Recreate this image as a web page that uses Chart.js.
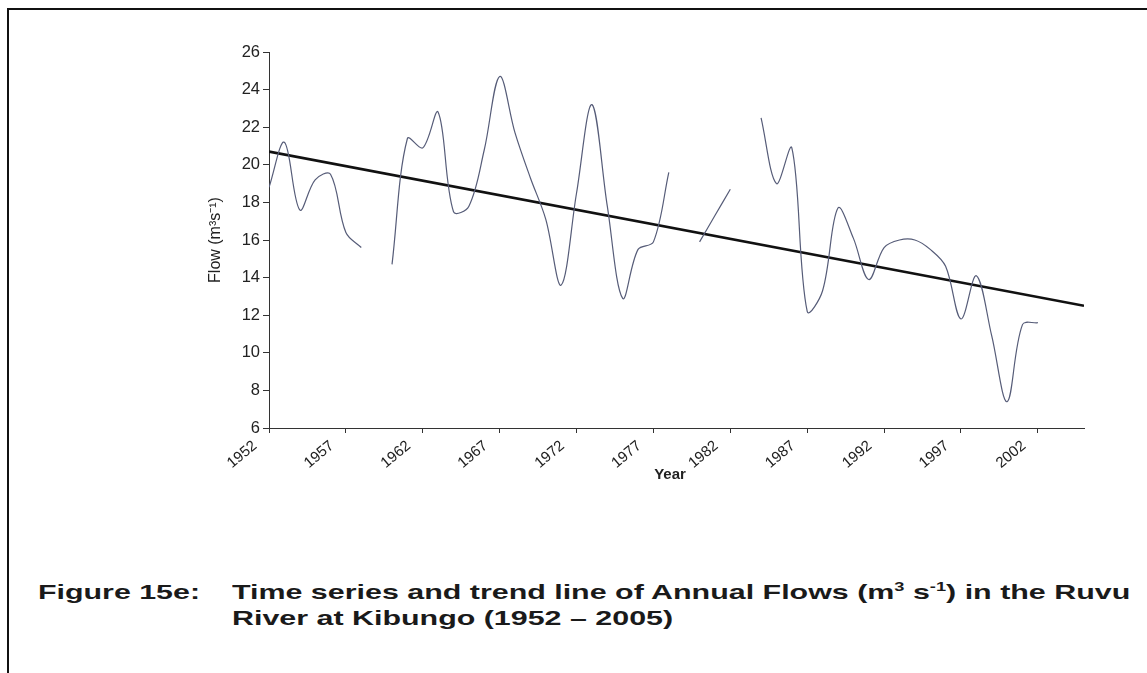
<!DOCTYPE html>
<html>
<head>
<meta charset="utf-8">
<script src="https://cdn.jsdelivr.net/npm/chart.js@4.4.1/dist/chart.umd.min.js"></script>
<style>
  html, body { margin: 0; padding: 0; background: #fff; }
  body { width: 1147px; height: 673px; position: relative; overflow: hidden; font-family: "Liberation Sans", Arial, sans-serif; }
  #frame { position: absolute; left: 7px; top: 8px; width: 1160px; height: 700px; border-top: 2px solid #111; border-left: 2px solid #111; }
  #c { position: absolute; left: 0; top: 0; }
  .cap { position: absolute; font-weight: bold; font-size: 21px; color: #1a1a1a; white-space: nowrap; transform-origin: 0 50%; line-height: 1; }
  .cap sup { font-size: 0.6em; vertical-align: 0.6em; line-height: 0; }
  #xt { position: absolute; left: 630px; width: 80px; text-align: center; top: 465px; font-weight: bold; font-size: 15px; line-height: 17px; color: #222; }
</style>
</head>
<body>
<div id="frame"></div>
<canvas id="c" width="1147" height="500"></canvas>
<div id="xt">Year</div>
<div class="cap" id="capA" style="left:38px; top:581px;">Figure 15e:</div>
<div class="cap" id="capB" style="left:232px; top:581px;">Time series and trend line of Annual Flows (m<sup>3</sup> s<sup>-1</sup>) in the Ruvu</div>
<div class="cap" id="capC" style="left:232px; top:607px;">River at Kibungo (1952 – 2005)</div>
<script>
// ---- data ----
const years = [1952,1953,1954,1955,1956,1957,1958,1959,1960,1961,1962,1963,1964,1965,1966,1967,1968,1969,1970,1971,1972,1973,1974,1975,1976,1977,1978,1979,1980,1981,1982,1983,1984,1985,1986,1987,1988,1989,1990,1991,1992,1993,1994,1995,1996,1997,1998,1999,2000,2001,2002,2003,2004,2005];
const flows = [18.8,21.2,17.6,19.2,19.5,16.4,15.6,null,14.7,21.4,20.9,22.8,17.5,17.8,20.8,24.7,21.7,19.3,17.1,13.6,18.5,23.2,17.8,12.9,15.5,15.9,19.6,null,15.9,17.3,18.7,null,22.5,19.0,20.9,12.2,13.3,17.7,16.1,13.9,15.6,16.0,16.0,15.5,14.6,11.8,14.1,10.9,7.4,11.5,11.6,null,null,null];
const trendYears = [1952, 2005];
const trendValues = [20.7, 12.5];
const tickYears = [1952,1957,1962,1967,1972,1977,1982,1987,1992,1997,2002];
const yTicks = [6,8,10,12,14,16,18,20,22,24,26];

const flowPoints = years.map((y, i) => ({x: y, y: flows[i]}));
const trendPoints = trendYears.map((y, i) => ({x: y, y: trendValues[i]}));

const FONT = '"Liberation Sans", Arial, sans-serif';
const AX = '#333';

new Chart(document.getElementById('c'), {
  type: 'line',
  data: {
    datasets: [
      { data: flowPoints, borderColor: '#565c78', borderWidth: 1.2, pointRadius: 0, tension: 0.35, spanGaps: false, fill: false },
      { data: trendPoints, borderColor: '#111', borderWidth: 2.6, pointRadius: 0, tension: 0, fill: false }
    ]
  },
  options: {
    responsive: false,
    animation: false,
    events: [],
    layout: { padding: { left: 204, top: 52, right: 63, bottom: 20 } },
    plugins: { legend: { display: false }, tooltip: { enabled: false } },
    scales: {
      x: {
        type: 'linear', min: 1952, max: 2005,
        afterBuildTicks: s => { s.ticks = tickYears.map(v => ({value: v})); },
        afterFit: s => { s.height = 52; },
        border: { display: true, color: AX, width: 1 },
        grid: { display: true, drawOnChartArea: false, drawTicks: true, tickLength: 5, color: AX },
        ticks: { autoSkip: false, maxRotation: 40, minRotation: 40, padding: 4, labelOffset: -14, color: '#222',
                 font: { family: FONT, size: 15 }, callback: v => String(v) },
        title: { display: false }
      },
      y: {
        min: 6, max: 26,
        afterBuildTicks: s => { s.ticks = yTicks.map(v => ({value: v})); },
        afterFit: s => { s.width = 65; },
        border: { display: true, color: AX, width: 1 },
        grid: { display: true, drawOnChartArea: false, drawTicks: true, tickLength: 6, color: AX },
        ticks: { padding: 3, color: '#222', font: { family: FONT, size: 16.5 } },
        title: { display: true, text: 'Flow (m³s⁻¹)', color: '#222', font: { family: FONT, size: 16 }, padding: { top: 2, bottom: 0 } }
      }
    }
  }
});

// fit caption horizontally to the reference widths
(function () {
  const fit = (id, target) => {
    const el = document.getElementById(id);
    const w = el.getBoundingClientRect().width;
    return target / w;
  };
  const kB = fit('capB', 898);
  const kA = fit('capA', 162);
  document.getElementById('capA').style.transform = 'scaleX(' + kA.toFixed(3) + ')';
  document.getElementById('capB').style.transform = 'scaleX(' + kB.toFixed(3) + ')';
  document.getElementById('capC').style.transform = 'scaleX(' + kB.toFixed(3) + ')';
})();
</script>
</body>
</html>
